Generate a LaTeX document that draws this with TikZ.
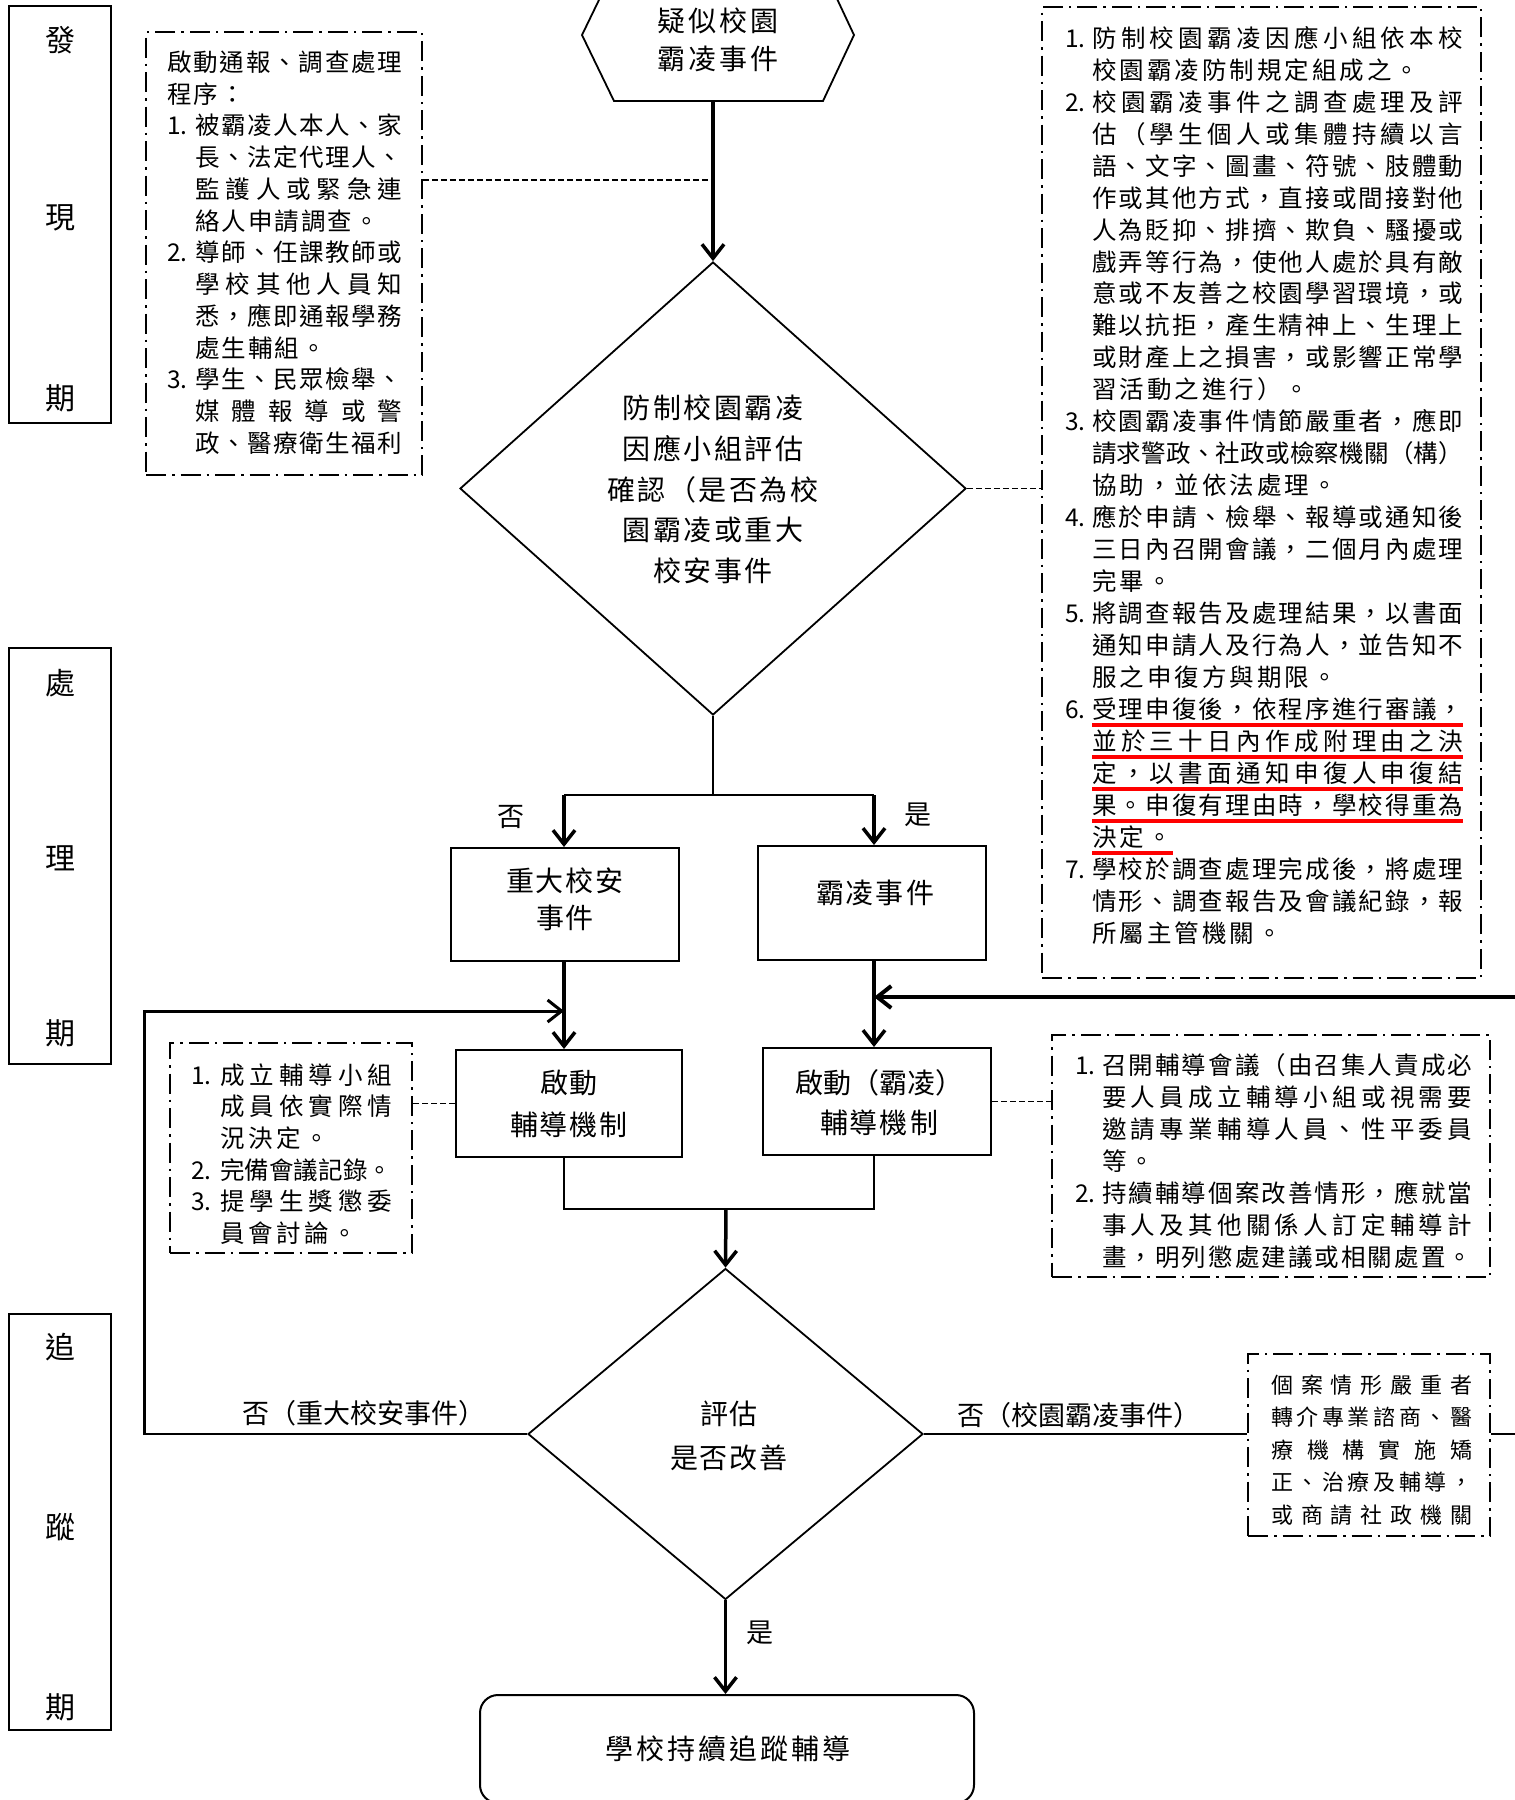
\documentclass[tikz,border=0pt]{standalone}
\usepackage{fontspec}
\setmainfont{Noto Sans CJK TC}
\usetikzlibrary{shapes.geometric,arrows.meta}
\def\jlA#1#2\jlEnd{#1\if\relax\detokenize{#2}\relax\else\jlsep\jlA#2\jlEnd\fi}
\newcommand\jl[2]{\hbox to #1{\def\jlsep{\hfil}\jlA#2\jlEnd}}
\newcommand\jn[1]{\hbox{\def\jlsep{\kern\qgap}\jlA#1\jlEnd}}
\def\qgap{2pt}
\def\qind{27pt}
\def\qwid{200pt}
\newcommand\ulr[1]{{\color{red}\vrule width #1 height -5pt depth 8.3pt}}
\newcommand\qI[2]{\hbox{\hbox to \qind{#1\hfil}\jl{\qwid}{#2}}}
\newcommand\qF[1]{\hbox{\kern\qind\jl{\qwid}{#1}}}
\newcommand\qN[1]{\hbox{\kern\qind\jn{#1}}}
\newcommand\qIU[2]{\hbox{\hbox to \qind{#1\hfil}\rlap{\ulr{\qwid}}\jl{\qwid}{#2}}}
\newcommand\qU[1]{\hbox{\kern\qind\rlap{\ulr{\qwid}}\jl{\qwid}{#1}}}
\newcommand\qUN[2]{\hbox{\kern\qind\rlap{\ulr{#1}}\jn{#2}}}
\newcommand\qblock[2]{\vtop{\baselineskip=#1\lineskiplimit=-100pt\lineskip=0pt #2}}
\newcommand\nfont{\fontsize{24.5pt}{32pt}\selectfont}
\begin{document}
\begin{tikzpicture}[x=1pt,y=-1pt,
  phase/.style={draw,line width=1.8pt,inner sep=0},
  ph/.style={inner sep=0,font={\fontsize{30pt}{36pt}\selectfont}},
  box/.style={draw,line width=2pt,inner sep=0},
  note/.style={draw,line width=1.8pt,inner sep=0,dash pattern=on 20pt off 6pt on 2.5pt off 6pt},
  dia/.style={draw,diamond,line width=1.8pt,inner sep=0},
  arr/.style={line width=3.5pt,-{Straight Barb[length=14pt,width=22pt]}},
  dcon/.style={line width=1.5pt,dash pattern=on 6pt off 3pt},
  txt/.style={inner sep=0,align=center,font={\fontsize{28pt}{40pt}\selectfont}},
  lbl/.style={inner sep=0,font={\fontsize{27pt}{32pt}\selectfont}},
  blk/.style={inner sep=0,anchor=base west,font=\nfont}
]
\useasboundingbox (0,0) rectangle (1515,1800);
\clip (0,0) rectangle (1515,1800);

% phase boxes
\node[phase,minimum width=102pt,minimum height=417pt] (pA) at (60,214.5) {};
\node[ph] (pA1) at (60,40) {發};
\node[ph] (pA2) at (60,218) {現};
\node[ph] (pA3) at (60,398) {期};
\node[phase,minimum width=102pt,minimum height=416pt] (pB) at (60,856) {};
\node[ph] (pB1) at (60,683) {處};
\node[ph] (pB2) at (60,858) {理};
\node[ph] (pB3) at (60,1033) {期};
\node[phase,minimum width=102pt,minimum height=416pt] (pC) at (60,1522) {};
\node[ph] (pC1) at (60,1347) {追};
\node[ph] (pC2) at (60,1527) {蹤};
\node[ph] (pC3) at (60,1707) {期};

% hexagon start
\draw[line width=1.8pt] (582,35) -- (614,101) -- (823,101) -- (854,35) -- (823,-31) -- (614,-31) -- cycle;
\node[txt,font={\fontsize{28pt}{38pt}\selectfont}] (hex) at (718,40) {\def\qgap{3pt}\jn{疑似校園}\\\def\qgap{3pt}\jn{霸凌事件}};
\coordinate (hexbot) at (713,101);

% decision 1
\node[dia,minimum width=506pt,minimum height=453pt] (d1) at (713,488.5) {};
\node[txt,font={\fontsize{28pt}{40.8pt}\selectfont}] (d1t) at (713,489.5)
  {\def\qgap{2.5pt}\jn{防制校園霸凌}\\\def\qgap{2.5pt}\jn{因應小組評估}\\\def\qgap{2.5pt}\jn{確認（是否為校}\\\def\qgap{2.5pt}\jn{園霸凌或重大}\\\def\qgap{2.5pt}\jn{校安事件}};
\draw[arr] (hexbot) -- (d1.north);

% note A
\node[note,minimum width=276pt,minimum height=443pt] (nA) at (284,253.5) {};
\node[blk] (nAt) at (167,71.3) {\def\qind{28pt}\def\qwid{207pt}\def\qgap{2pt}\qblock{31.75pt}{%
\hbox{\jl{235pt}{啟動通報、調查處理}}
\hbox{\jn{程序：}}
\qI{1.}{被霸凌人本人、家}
\qF{長、法定代理人、}
\qF{監護人或緊急連}
\qN{絡人申請調查。}
\qI{2.}{導師、任課教師或}
\qF{學校其他人員知}
\qF{悉，應即通報學務}
\qN{處生輔組。}
\qI{3.}{學生、民眾檢舉、}
\qF{媒體報導或警}
\qF{政、醫療衛生福利}}};
\coordinate (dA) at (713,180);
\draw[dcon] (nA.east |- dA) -- (dA);

% note B
\node[note,minimum width=439pt,minimum height=971pt] (nB) at (1261.5,492.5) {};
\node[blk] (nBt) at (1065,47.3) {\def\qind{27pt}\def\qwid{371pt}\def\qgap{3pt}\qblock{31.96pt}{%
\qI{1.}{防制校園霸凌因應小組依本校}
\qN{校園霸凌防制規定組成之。}
\qI{2.}{校園霸凌事件之調查處理及評}
\qF{估（學生個人或集體持續以言}
\qF{語、文字、圖畫、符號、肢體動}
\qF{作或其他方式，直接或間接對他}
\qF{人為貶抑、排擠、欺負、騷擾或}
\qF{戲弄等行為，使他人處於具有敵}
\qF{意或不友善之校園學習環境，或}
\qF{難以抗拒，產生精神上、生理上}
\qF{或財產上之損害，或影響正常學}
\qN{習活動之進行）。}
\qI{3.}{校園霸凌事件情節嚴重者，應即}
\qF{請求警政、社政或檢察機關（構）}
\qN{協助，並依法處理。}
\qI{4.}{應於申請、檢舉、報導或通知後}
\qF{三日內召開會議，二個月內處理}
\qN{完畢。}
\qI{5.}{將調查報告及處理結果，以書面}
\qF{通知申請人及行為人，並告知不}
\qN{服之申復方與期限。}
\qIU{6.}{受理申復後，依程序進行審議，}
\qU{並於三十日內作成附理由之決}
\qU{定，以書面通知申復人申復結}
\qU{果。申復有理由時，學校得重為}
\qUN{81pt}{決定。}
\qI{7.}{學校於調查處理完成後，將處理}
\qF{情形、調查報告及會議紀錄，報}
\qN{所屬主管機關。}}};
\draw[dcon] (d1.east) -- (d1.east -| nB.west);

% split
\coordinate (sp) at (713,795);
\coordinate (sL) at (564,795);
\coordinate (sR) at (874,795);
\draw[line width=1.5pt] (d1.south) -- (sp);
\draw[line width=2.5pt] (sL) -- (sR);
\node[lbl] (no1) at (511,817) {否};
\node[lbl] (yes1) at (918,815) {是};

% boxes
\node[box,minimum width=228pt,minimum height=113pt] (b1) at (564.5,904.5) {};
\node[box,minimum width=228pt,minimum height=114pt] (b2) at (872,903) {};
\node[box,minimum width=226pt,minimum height=107pt] (b3) at (569,1103.5) {};
\node[box,minimum width=228pt,minimum height=107pt] (b4) at (877,1101.5) {};
\node[txt,font={\fontsize{28pt}{37pt}\selectfont}] (b1t) at (565,899.5) {\jn{重大校安}\\\jn{事件}};
\node[txt] (b2t) at (875,893) {\jn{霸凌事件}};
\node[txt,font={\fontsize{28pt}{42pt}\selectfont}] (b3t) at (569,1104) {\jn{啟動}\\\jn{輔導機制}};
\node[txt,font={\fontsize{28pt}{40pt}\selectfont}] (b4t) at (879,1103) {啟動（霸凌）\\\jn{輔導機制}};
\draw[arr] (sL) -- (sL |- b1.north);
\draw[arr] (sR) -- (sR |- b2.north);
\draw[arr] (sL |- b1.south) -- (sL |- b3.north);
\draw[arr] (sR |- b2.south) -- (sR |- b4.north);

% note C
\node[note,minimum width=242pt,minimum height=210pt] (nC) at (291,1148) {};
\node[blk] (nCt) at (191,1084.3) {\def\qind{29pt}\def\qwid{172pt}\def\qgap{3.5pt}\qblock{31.6pt}{%
\qI{1.}{成立輔導小組}
\qF{成員依實際情}
\qN{況決定。}
\qI{2.}{完備會議記錄。}
\qI{3.}{提學生獎懲委}
\qN{員會討論。}}};
\draw[dcon] (b3.west) -- (b3.west -| nC.east);

% note D
\node[note,minimum width=438pt,minimum height=242pt] (nD) at (1271,1156) {};
\node[blk] (nDt) at (1075,1074.3) {\def\qind{27pt}\def\qwid{370pt}\def\qgap{3pt}\qblock{32pt}{%
\qI{1.}{召開輔導會議（由召集人責成必}
\qF{要人員成立輔導小組或視需要}
\qF{邀請專業輔導人員、性平委員}
\qN{等。}
\qI{2.}{持續輔導個案改善情形，應就當}
\qF{事人及其他關係人訂定輔導計}
\qF{畫，明列懲處建議或相關處置。}}};
\draw[dcon] (b4.east) -- (b4.east -| nD.west);

% join and decision 2
\coordinate (jn) at (726,1209);
\draw[line width=2pt] (sL |- b3.south) -- (sL |- jn) -- (sR |- jn) -- (sR |- b4.south);
\node[dia,minimum width=395pt,minimum height=331pt] (d2) at (725.5,1434) {};
\node[txt,font={\fontsize{28pt}{44pt}\selectfont}] (d2t) at (729,1436) {\jn{評估}\\\jn{是否改善}};
\draw[arr] (jn) -- (d2.north);

% left loop
\coordinate (lc) at (144,1434);
\coordinate (lt) at (144,1011);
\draw[line width=2pt] (d2.west) -- (lc);
\draw[line width=3pt,shorten <=-1pt,-{Straight Barb[length=14pt,width=22pt]}] (lc) -- (lt) -- (lt -| sL);
\node[lbl] (no2) at (364,1413) {否（重大校安事件）};

% right branch
\node[lbl] (no3) at (1079,1415) {否（校園霸凌事件）};
\node[note,minimum width=242pt,minimum height=182pt] (nE) at (1369,1445) {};
\node[blk,font={\fontsize{22pt}{30pt}\selectfont}] (nEt) at (1271,1393.4) {\qblock{32.5pt}{%
\hbox{\jl{201pt}{個案情形嚴重者}}
\hbox{\jl{201pt}{轉介專業諮商、醫}}
\hbox{\jl{201pt}{療機構實施矯}}
\hbox{\jl{201pt}{正、治療及輔導，}}
\hbox{\jl{201pt}{或商請社政機關}}}};
\draw[line width=2pt] (d2.east) -- (d2.east -| nE.west);
\coordinate (rc) at (1530,1434);
\coordinate (rt) at (1530,997);
\draw[line width=2pt] (d2.east -| nE.east) -- (rc);
\draw[line width=4pt,-{Straight Barb[length=14pt,width=22pt]}] (rc) -- (rt) -- (rt -| sR);

% final
\node[box,rounded corners=18pt,minimum width=494pt,minimum height=108pt] (fin) at (727,1749) {};
\node[txt] (fint) at (728,1749) {\def\qgap{3pt}\jn{學校持續追蹤輔導}};
\draw[arr] (d2.south) -- (d2.south |- fin.north);
\node[lbl] (yes2) at (760,1633) {是};
\end{tikzpicture}
\end{document}
